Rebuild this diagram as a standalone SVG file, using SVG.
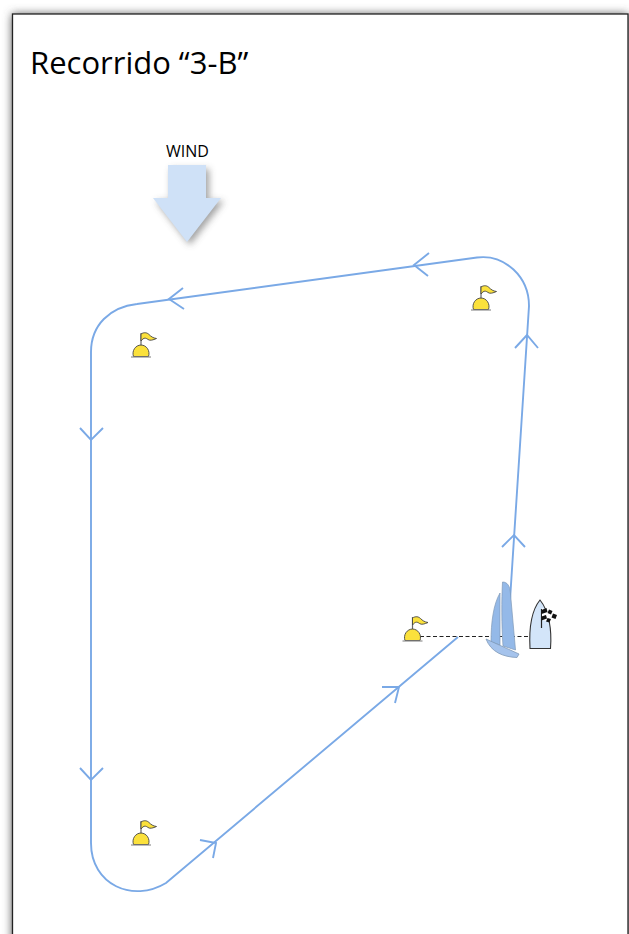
<svg xmlns="http://www.w3.org/2000/svg" width="629" height="934" viewBox="0 0 629 934">
<style>
.route{fill:none;stroke:#7aa9e6;stroke-width:1.900}
.txt{font-family:"Open Sans","Noto Sans",sans-serif;fill:#000}
.yellow{fill:#fbe13c;stroke:#444;stroke-width:0.900}
.sail{fill:#94b9e8;stroke:#7f99b8;stroke-width:0.700}
</style>
<defs>
<filter id="pagesh" x="-10%" y="-10%" width="120%" height="120%"><feGaussianBlur stdDeviation="5"/></filter>
<filter id="sh" x="-30%" y="-30%" width="160%" height="160%"><feGaussianBlur stdDeviation="3.500"/></filter>
<g id="buoy">
<path d="M0-24V-11" fill="none" stroke="#666" stroke-width="1.200"/>
<path class="yellow" d="M0-23C3-25 6-24.500 8-22.500S12-19 15.500-18.500C12-17 9-16 7-17.500S3-20 0-16Z"/>
<path class="yellow" d="M-7.500 0A8 8.500 0 1 1 7.500 0Z" transform="translate(0 -0.500)"/>
<path d="M-10 0H10" stroke="#888" stroke-width="1.100" fill="none"/>
</g>
</defs>
<rect width="629" height="934" fill="#fff"/>
<rect x="12" y="14" width="616" height="940" fill="#555" filter="url(#pagesh)"/>
<rect x="12.500" y="14" width="615.500" height="930" fill="#fff" stroke="#222" stroke-width="1.300"/>
<text id="title" class="txt" x="30" y="74" font-size="31">Recorrido “3-B”</text>
<g id="wind">
<path d="M171 169H209V201H224L190 245L156 201H171Z" fill="#444" opacity="0.500" filter="url(#sh)"/>
<path d="M168 165H206V198H221L187 242L153 198H168Z" fill="#cfe1f7"/>
<text class="txt" x="187.500" y="157" font-size="16" text-anchor="middle">WIND</text>
</g>
<g id="connectors">
<path class="route" d="M458 637L166 883C133 903 91 885 91 843V352C91 325 110 307 137 304L477 257.500C505 254 529 277 529 306L510 600"/>
<path class="route" d="M429 253L414 265L428 276M183 288L169 299L184 309M80 428L91 440L103 428M80 768L91 780L103 768M200 840L216 843L213 858M382 687L399 687L395 703M515 348L527 335L538 348M502 547L514 535L525 547"/>
<path d="M420 636.500H530" fill="none" stroke="#222" stroke-width="1" stroke-dasharray="4 2.500"/>
</g>
<use id="buoy-1" href="#buoy" x="481" y="310"/>
<use id="buoy-2" href="#buoy" x="141" y="357"/>
<use id="buoy-3" href="#buoy" x="412.500" y="641"/>
<use id="buoy-4" href="#buoy" x="141" y="845"/>
<g id="sailboat">
<path class="sail" d="M502.500 582C507.500 582 510 586 510.500 594L515.500 650L503 646C501.500 625 501.500 600 502.500 582Z"/>
<path class="sail" d="M500 593L500 645L491 642C491 622 493.500 604 500 593Z"/>
<path d="M486 639L519 654L517 657.500C503 657 491 652 486 639Z" fill="#a5c3ec" stroke="#7f99b8" stroke-width="0.800"/>
</g>
<g id="committee-boat">
<path d="M530 648.500C529 630 531 611 540 600C549 611 552 630 550.500 648.500Z" fill="#d3e5f9" stroke="#333" stroke-width="1.100"/>
<path d="M541.500 609V628" stroke="#222" stroke-width="1.200" fill="none"/>
<path d="M542 608L558 614L555 623L542 620Z" fill="#fff"/>
<path d="M541.500 610l5-2 1 4-6 2zM549 609.500l3.500 1.500-1.500 3.500-3.500-1.500zM541.500 616.500l4.500-1.500 1 3.500-5.500 2zM553 613.500l4 1.500-1.500 4-4-1.500zM547.500 618l3.500 1-1.500 3.500-3.500-1z" fill="#111"/>
</g>
</svg>
